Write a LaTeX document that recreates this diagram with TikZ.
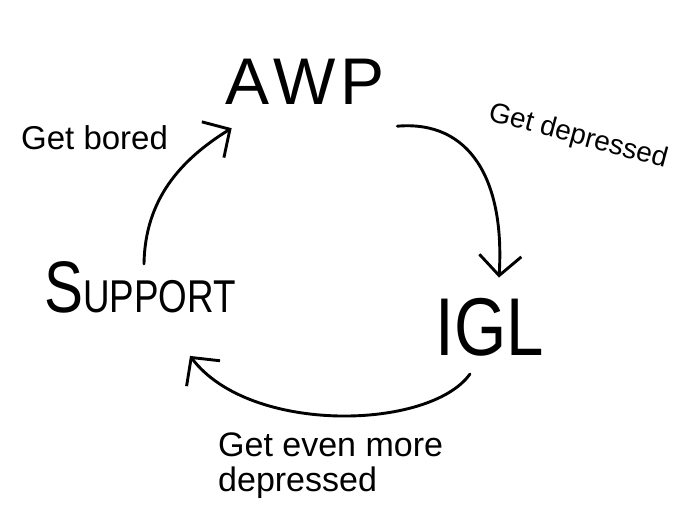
\documentclass[tikz,border=0pt]{standalone}
\usepackage{fontspec}
\usepackage{graphicx}
\setmainfont{Liberation Sans}
\usetikzlibrary{arrows.meta}
\begin{document}
\begin{tikzpicture}[x=1pt,y=-1pt,
  flow/.style={line width=2.9pt, line cap=round, line join=round,
    -{Straight Barb[length=20pt,width=42pt,line width=2.9pt]}},
  big/.style={inner sep=0pt, anchor=base},
  lbl/.style={inner sep=0pt}]
\useasboundingbox (0,0) rectangle (680,513);
% states
\node[big, font=\fontsize{66}{66}\selectfont] (awp) at (305,105) {A\kern4pt W\kern4pt P};
\node[big, font=\fontsize{82}{82}\selectfont] (igl) at (490,355) {\scalebox{0.82}[1]{IGL}};
\node[big] (support) at (140,312) {\scalebox{0.8}[1]{\fontsize{73}{73}\selectfont S\fontsize{46}{46}\selectfont UPPORT}};
% labels
\node[lbl, anchor=base west, font=\fontsize{33}{33}\selectfont] (lbored) at (21,150) {Get bored};
\node[lbl, rotate=-15, font=\fontsize{28}{28}\selectfont] (ldep) at (578,137) {Get depressed};
\node[lbl, anchor=north west, align=left, font=\fontsize{34}{35}\selectfont] (lmore) at (218,433) {Get even more\\depressed};
% connectors
\draw[flow] ([shift={(13,21)}]awp.south east) .. controls (470,120) and (505,180) .. ([shift={(9,-20)}]igl.north);
\draw[flow] ([shift={(-20,18)}]igl.south) .. controls (430,430) and (250,435) .. ([shift={(50,43)}]support.south);
\draw[flow] ([shift={(4,3)}]support.north) .. controls (145,200) and (180,160) .. ([shift={(6,23)}]awp.south west);
\end{tikzpicture}
\end{document}
